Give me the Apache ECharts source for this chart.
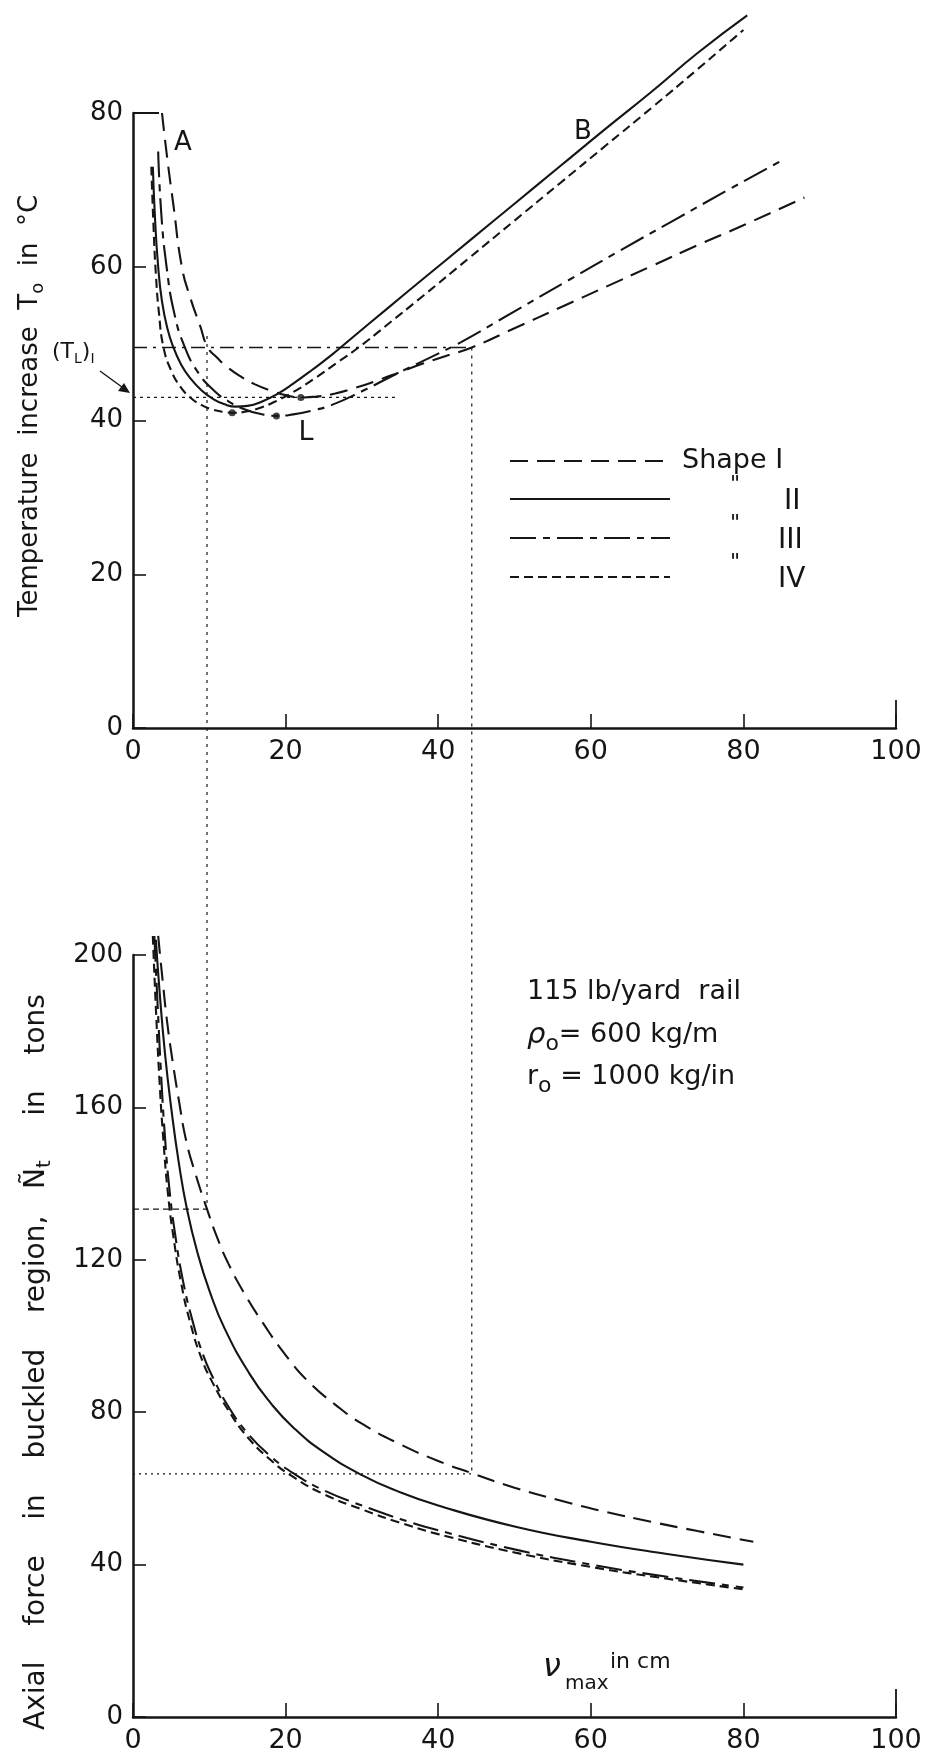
<!DOCTYPE html>
<html><head><meta charset="utf-8">
<script src="https://cdn.jsdelivr.net/npm/echarts@6/dist/echarts.min.js"></script>
<style>html,body{margin:0;padding:0;background:#fff}#c{width:933px;height:1763px}</style>
</head><body><div id="c"></div>
<script>
// ---------- data ----------
const xTicks = [0, 20, 40, 60, 80, 100];
const topYTicks = [0, 20, 40, 60, 80];
const botYTicks = [0, 40, 80, 120, 160, 200];
const shapeLabels = ['Shape I', 'II', 'III', 'IV'];

// Top chart: temperature increase T0 (°C) vs v_max (cm)
const topI_x = [3.8, 4.5, 5.3, 6.4, 7.5, 8.8, 9.8, 11, 12.3, 14, 16, 18.3, 20, 22, 24, 26.5, 29, 32, 35, 38, 41, 44.4, 50, 56, 62, 68, 74, 80, 88];
const topI_T = [80, 74, 68, 60, 56, 52.3, 49.5, 48.2, 47, 45.8, 44.7, 43.8, 43.3, 43, 43.1, 43.5, 44.2, 45.2, 46.3, 47.4, 48.4, 49.5, 52, 54.7, 57.4, 60.1, 62.8, 65.4, 69];
const topII_x = [2.6, 2.9, 3.3, 3.8, 4.5, 5.3, 6.3, 7.5, 9, 10.5, 12, 13.5, 15, 17, 19, 21, 23.5, 26, 29, 33, 38, 44, 50, 56, 62, 68, 74, 80.5];
const topII_T = [73, 66, 60, 55.5, 52, 49.5, 47.3, 45.5, 43.9, 42.8, 42.1, 41.8, 41.9, 42.5, 43.5, 44.8, 46.6, 48.5, 51, 54.3, 58.4, 63.3, 68.2, 73.1, 78, 82.8, 87.8, 92.7];
const topIII_x = [3.3, 3.7, 4.4, 5.4, 6.8, 8.5, 10.5, 12.5, 14.5, 16.5, 18.8, 21, 23.5, 26, 30, 35, 40, 43, 50, 57, 64, 71, 78, 85];
const topIII_T = [75, 67, 60, 54, 49.5, 46.3, 44, 42.5, 41.5, 40.9, 40.6, 40.8, 41.3, 42, 43.8, 46.3, 48.7, 50.2, 54.2, 58.2, 62.2, 66.1, 70, 73.8];
const topIV_x = [2.4, 2.7, 3, 3.4, 4, 5, 6.2, 7.5, 9, 10.5, 12, 13, 14.5, 16.5, 18.5, 21, 24, 27, 29.7, 33, 38, 44, 50, 56, 62, 68, 74, 80];
const topIV_T = [73, 65, 59, 54, 49.5, 46.5, 44.4, 43, 42, 41.4, 41.1, 41.0, 41.1, 41.6, 42.4, 43.7, 45.6, 47.7, 49.6, 52.2, 56.2, 61.1, 66, 70.9, 75.8, 80.7, 85.7, 90.8];
const minDots_x = [22, 13, 18.8];
const minDots_T = [43, 41.0, 40.6];

// Bottom chart: axial force N_t (tons) vs v_max (cm)
const botI_x = [3.3, 3.9, 4.5, 5.2, 6, 7, 8.2, 9.7, 11, 12.5, 14.5, 17, 20, 23, 26.5, 30, 35, 40, 44.4, 50, 56, 62, 68, 74, 81.3];
const botI_N = [205, 193, 182, 172, 162, 151, 142.5, 133.3, 126, 119, 111.5, 103.5, 95, 88, 82, 77, 71.6, 67.2, 64, 60.2, 56.8, 53.8, 51.2, 48.8, 46];
const botII_x = [3, 3.5, 4.2, 5, 6, 7.1, 8.5, 10, 12, 15.3, 18, 21, 25, 30, 35, 40, 50, 60, 70, 80];
const botII_N = [204, 190, 174, 160, 145.5, 133, 121.5, 112, 102, 90, 82.5, 76, 69.5, 63.5, 59, 55.5, 50, 46, 42.8, 40];
const botIII_x = [2.8, 3.2, 3.7, 4.2, 4.8, 5.5, 6.5, 7.8, 9.2, 10.5, 12.5, 15, 18, 21, 25, 30, 35, 40, 50, 60, 70, 80];
const botIII_N = [205, 188, 168, 152, 138, 127, 115, 104, 95, 89, 81.5, 74.5, 68.5, 64, 59.5, 55.5, 52, 49, 44, 40, 36.8, 34];
const botIV_x = [2.6, 3, 3.5, 4, 4.6, 5.3, 6.3, 7.5, 9, 10.5, 12.5, 15, 18, 21, 25, 30, 35, 40, 50, 60, 70, 80];
const botIV_N = [205, 186, 166, 151, 137, 126, 114, 103.5, 94, 87.5, 80.5, 73.5, 67.5, 63, 58.5, 54.5, 51, 48, 43.2, 39.4, 36.3, 33.5];

// construction lines
const levelT = 49.5;         // horizontal level in top chart
const levelEnd = 44.4;
const tlI = 43;              // (T_L)_I
const tlIEnd = 34.6;
const crossX = [9.7, 44.4];
const crossTopT = [51, 49.5];
const crossBotN = [133.3, 63.8];

// ---------- styling ----------
const INK = '#151515';
const FONT = 'DejaVu Sans';
const dashes = [[18, 9], 'solid', [26, 7, 7, 7], [9, 5]];

const zip = (a, b) => a.map((v, i) => [v, b[i]]);
const topSets = [[topI_x, topI_T], [topII_x, topII_T], [topIII_x, topIII_T], [topIV_x, topIV_T]];
const botSets = [[botI_x, botI_N], [botII_x, botII_N], [botIII_x, botIII_N], [botIV_x, botIV_N]];

const series = [];
topSets.forEach((s, i) => series.push({
  type: 'line', xAxisIndex: 0, yAxisIndex: 0, data: zip(s[0], s[1]), smooth: 0.5,
  showSymbol: false, clip: false, lineStyle: { color: INK, width: 2.1, type: dashes[i] }, silent: true
}));
botSets.forEach((s, i) => series.push({
  type: 'line', xAxisIndex: 1, yAxisIndex: 1, data: zip(s[0], s[1]), smooth: 0.5,
  showSymbol: false, clip: false, lineStyle: { color: INK, width: 2.1, type: dashes[i] }, silent: true
}));
series.push({ type: 'scatter', xAxisIndex: 0, yAxisIndex: 0, data: zip(minDots_x, minDots_T), symbolSize: 7, itemStyle: { color: INK }, silent: true });
// construction lines
series.push({ type: 'line', xAxisIndex: 0, yAxisIndex: 0, data: [[0, levelT], [levelEnd, levelT]], showSymbol: false,
  lineStyle: { color: INK, width: 1.4, type: [14, 6, 3, 6] }, silent: true });
series.push({ type: 'line', xAxisIndex: 0, yAxisIndex: 0, data: [[0, tlI], [tlIEnd, tlI]], showSymbol: false,
  lineStyle: { color: INK, width: 1.2, type: [3, 4] }, silent: true });
series.push({ type: 'line', xAxisIndex: 1, yAxisIndex: 1, data: [[0, crossBotN[0]], [crossX[0], crossBotN[0]]], showSymbol: false,
  lineStyle: { color: INK, width: 1.3, type: [6, 4] }, silent: true });
series.push({ type: 'line', xAxisIndex: 1, yAxisIndex: 1, data: [[0, crossBotN[1]], [crossX[1], crossBotN[1]]], showSymbol: false,
  lineStyle: { color: INK, width: 1.1, type: [2, 4] }, silent: true });

function xAxis(g) {
  return { gridIndex: g, type: 'value', min: 0, max: 100, interval: 20,
    axisLine: { lineStyle: { color: INK, width: 2.5 } },
    axisTick: { inside: true, length: 14, lineStyle: { color: INK, width: 1.6 } },
    axisLabel: { margin: 10, fontSize: 27, color: INK, fontFamily: FONT },
    splitLine: { show: false } };
}
function yAxis(g, max, interval) {
  return { gridIndex: g, type: 'value', min: 0, max: max, interval: interval,
    axisLine: { show: true, lineStyle: { color: INK, width: 2.5 } },
    axisTick: { show: true, inside: true, length: 13, lineStyle: { color: INK, width: 1.6 } },
    axisLabel: { margin: 10, fontSize: 26, color: INK, fontFamily: FONT },
    splitLine: { show: false } };
}

const chart = echarts.init(document.getElementById('c'), null, { renderer: 'canvas' });
chart.setOption({
  backgroundColor: '#fff',
  animation: false,
  grid: [
    { left: 133, right: 37, top: 113, height: 615 },
    { left: 133, right: 37, top: 955, height: 762 }
  ],
  xAxis: [xAxis(0), xAxis(1)],
  yAxis: [yAxis(0, 80, 20), yAxis(1, 200, 40)],
  series: series
});

// ---------- annotations ----------
const P = (g, pt) => chart.convertToPixel({ gridIndex: g }, pt);
const g = [];
function seg(a, b, w, dash) {
  g.push({ type: 'line', shape: { x1: a[0], y1: a[1], x2: b[0], y2: b[1] }, silent: true,
    style: { stroke: INK, lineWidth: w, lineDash: dash || null } });
}
function txt(x, y, text, size, extra) {
  g.push(Object.assign({ type: 'text', x: x, y: y, silent: true,
    style: Object.assign({ text: text, fill: INK, fontFamily: FONT, fontSize: size, align: 'left', verticalAlign: 'middle' }, (extra && extra.style) || {}) },
    extra && extra.rotation ? { rotation: extra.rotation } : {}));
}
// crossing vertical construction lines
crossX.forEach((x, i) => seg(P(0, [x, crossTopT[i]]), P(1, [x, crossBotN[i]]), 1.2, [3, 5]));
// longer end ticks
[0, 1].forEach(k => { const a = P(k, [100, 0]); seg(a, [a[0], a[1] - 28], 1.8); });
{ const a = P(0, [0, 80]); seg(a, [a[0] + 26, a[1]], 2); }

// legend
const legY = [461, 499, 538, 577];
legY.forEach((y, i) => seg([510, y], [670, y], 2.2, dashes[i] === 'solid' ? null : dashes[i]));
txt(682, legY[0], shapeLabels[0], 27);
const romanX = [0, 784, 778, 778];
[1, 2, 3].forEach(i => {
  txt(730, legY[i] - 14, '"', 22);
  txt(romanX[i], legY[i] + 3, shapeLabels[i], 28);
});

// curve labels
txt(183, 143, 'A', 26, { style: { align: 'center' } });
txt(583, 132, 'B', 26, { style: { align: 'center' } });
txt(306, 433, 'L', 27, { style: { align: 'center' } });
const subRich = (fs, pad) => ({ s: { fontSize: fs, fontFamily: FONT, fill: INK, padding: [pad, 0, 0, 0] } });
txt(52, 352, '(T{s|L}){s|I}', 22, { style: { rich: subRich(14, 14) } });
seg([100, 371], [126, 390], 1.4);
g.push({ type: 'polygon', silent: true, shape: { points: [[130, 393], [118, 391], [124, 383]] }, style: { fill: INK } });

// axis titles
txt(30, 406, 'Temperature  increase  T{s|o}  in  °C', 26, {
  rotation: Math.PI / 2,
  style: { align: 'center', rich: subRich(18, 16) }
});
txt(37, 1362, 'Axial    force    in    buckled    region,   Ñ{s|t}     in    tons', 28, {
  rotation: Math.PI / 2,
  style: { align: 'center', rich: subRich(20, 16) }
});

// parameter block
txt(527, 992, '115 lb/yard  rail', 27);
txt(527, 1035, '{g|ρ}{s|o}= 600 kg/m', 27, { style: { rich: {
  g: { fontSize: 29, fontFamily: FONT, fill: INK, fontStyle: 'italic' },
  s: { fontSize: 22, fontFamily: FONT, fill: INK, padding: [18, 0, 0, 0] } } } });
txt(527, 1077, 'r{s|o} = 1000 kg/in', 27, { style: { rich: {
  s: { fontSize: 22, fontFamily: FONT, fill: INK, padding: [18, 0, 0, 0] } } } });

// x-axis title
txt(543, 1668, 'ν', 32, { style: { fontStyle: 'italic' } });
txt(565, 1684, 'max', 20);
txt(610, 1662, 'in cm', 22);

chart.setOption({ graphic: g });
</script>
</body></html>
